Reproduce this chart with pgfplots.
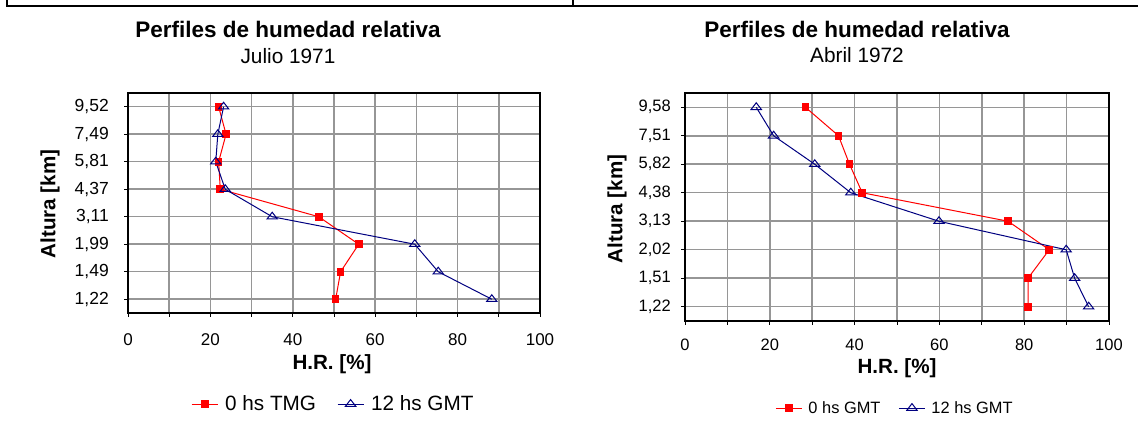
\documentclass[border=0pt]{standalone}
\usepackage{fontspec}
\setmainfont{Liberation Sans}
\usepackage{pgfplots}
\pgfplotsset{compat=1.18}
\definecolor{hrred}{RGB}{255,0,0}
\definecolor{hrblue}{RGB}{0,0,128}
\definecolor{gridgray}{RGB}{150,150,150}

\newcommand{\fs}[1]{\fontsize{#1}{#1}\selectfont}

\pgfplotsset{
  hrpanel/.style={
    scale only axis,
    anchor=south west,
    xmin=0, xmax=100, ymin=0.5, ymax=8.5,
    xtick={0,20,...,100},
    minor xtick={10,30,...,90},
    ytick={1,...,8},
    xmajorgrids, xminorgrids, ymajorgrids,
    grid style={gridgray, line width=1.5pt},
    minor grid style={gridgray, line width=1.5pt},
    major tick length=4pt, minor tick length=4pt,
    tick align=outside,
    tick style={black, line width=1pt},
    xtick pos=bottom, ytick pos=left,
    axis line style={black, line width=1.3pt},
    /pgf/number format/assume math mode=true,
    legend columns=2,
    legend cell align=left,
    legend image code/.code={
      \draw[mark repeat=2, mark phase=2] plot coordinates {(0pt,0pt) (13pt,0pt) (26pt,0pt)};
    },
  },
  redser/.style={hrred, line width=1pt, mark=square*, mark size=3.3pt,
    mark options={solid, fill=hrred}},
  blueser/.style={hrblue, line width=1pt, mark=triangle, mark size=5pt,
    mark options={solid, fill=white, xscale=1.2, yscale=0.9}},
}

\begin{document}
\begin{tikzpicture}[x=1pt, y=1pt]
\useasboundingbox (0,0) rectangle (1138,427);

% panel frames
\draw[line width=2pt, black] (6.5,427) -- (6.5,420.5) -- (1138,420.5);
\draw[line width=2pt, black] (573,427) -- (573,420.5);

% ---- left panel: Julio 1971
\begin{axis}[hrpanel,
  at={(128pt,114pt)}, width=412pt, height=220pt,
  yticklabels={1{,}22,1{,}49,1{,}99,3{,}11,4{,}37,5{,}81,7{,}49,9{,}52},
  xticklabel style={font=\fs{17}, inner sep=0pt, anchor=north, yshift=-16pt},
  yticklabel style={font=\fs{17.5}, inner sep=0pt, anchor=east, xshift=-15pt},
  legend style={font=\fs{20.7}, draw=none, fill=none, at={(0.496,-0.414)}, anchor=center,
    nodes={inner sep=0pt},
    /tikz/every odd column/.append style={column sep=7pt},
    /tikz/every even column/.append style={column sep=21pt}},
]
\addplot[redser] coordinates {(50.4,1) (51.6,2) (56.0,3) (46.3,4) (22.4,5) (22.0,6) (23.8,7) (22.0,8)};
\addlegendentry{0 hs TMG}
\addplot[blueser] coordinates {(88.3,1) (75.3,2) (69.6,3) (35.0,4) (23.6,5) (21.3,6) (21.8,7) (23.2,8)};
\addlegendentry{12 hs GMT}
\end{axis}

% ---- right panel: Abril 1972
\begin{axis}[hrpanel,
  at={(685pt,106pt)}, width=424pt, height=228pt,
  yticklabels={1{,}22,1{,}51,2{,}02,3{,}13,4{,}38,5{,}82,7{,}51,9{,}58},
  xticklabel style={font=\fs{16.5}, inner sep=0pt, anchor=north, yshift=-14pt},
  yticklabel style={font=\fs{16.5}, inner sep=0pt, anchor=east, xshift=-10pt},
  legend style={font=\fs{16.4}, draw=none, fill=none, at={(0.493,-0.382)}, anchor=center,
    nodes={inner sep=0pt},
    /tikz/every odd column/.append style={column sep=6pt},
    /tikz/every even column/.append style={column sep=18pt}},
]
\addplot[redser] coordinates {(80.9,1) (80.9,2) (85.9,3) (76.2,4) (41.8,5) (38.8,6) (36.2,7) (28.4,8)};
\addlegendentry{0 hs GMT}
\addplot[blueser] coordinates {(95.2,1) (91.9,2) (89.9,3) (59.9,4) (39.1,5) (30.6,6) (20.9,7) (16.8,8)};
\addlegendentry{12 hs GMT}
\end{axis}

% titles and axis labels
\node[font=\fs{22.5}\bfseries] at (288,398) {Perfiles de humedad relativa};
\node[font=\fs{20.8}] at (288,371) {Julio 1971};
\node[font=\fs{22.5}\bfseries] at (857,398) {Perfiles de humedad relativa};
\node[font=\fs{20.8}] at (857,372) {Abril 1972};

\node[font=\fs{20.6}\bfseries] at (332,63) {H.R. [\%]};
\node[font=\fs{20.6}\bfseries] at (897,59) {H.R. [\%]};
\node[font=\fs{20.6}\bfseries, rotate=90] at (50,223) {Altura [km]};
\node[font=\fs{20.6}\bfseries, rotate=90] at (617,218) {Altura [km]};
\end{tikzpicture}
\end{document}
